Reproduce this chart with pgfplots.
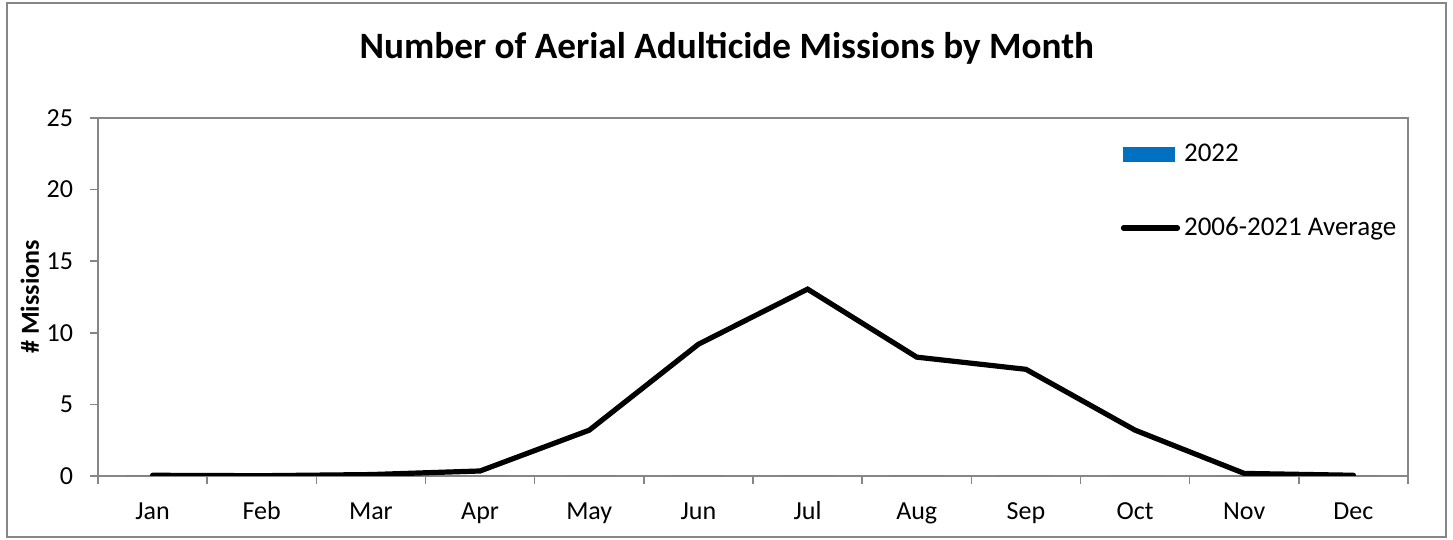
\documentclass[border=0pt]{standalone}
\usepackage{pgfplots}
\pgfplotsset{compat=1.18}
\usepackage{fontspec}
\setmainfont{Carlito}
\definecolor{axgray}{RGB}{134,134,134}
\definecolor{xlblue}{RGB}{0,112,192}

\pgfplotstableread{
m  avg   y2022
0  0.05  0
1  0.02  0
2  0.10  0
3  0.35  0
4  3.20  0
5  9.20  0
6  13.05 0
7  8.30  0
8  7.45  0
9  3.20  0
10 0.18  0
11 0.05  0
}\missions

\begin{document}
\begin{tikzpicture}
\begin{axis}[
  name=ax,
  scale only axis,
  width=655pt, height=179pt,
  xmin=-0.5, xmax=11.5,
  ymin=0, ymax=25,
  xtick={0,...,11},
  xticklabels={Jan,Feb,Mar,Apr,May,Jun,Jul,Aug,Sep,Oct,Nov,Dec},
  minor xtick={-0.5,0.5,...,11.5},
  ytick={0,5,10,15,20,25},
  major x tick style={draw=none},
  tick align=outside,
  major tick length=4pt,
  minor tick length=4pt,
  xtick pos=bottom, ytick pos=left,
  axis line style={axgray, line width=0.8pt},
  every tick/.style={axgray, line width=0.8pt},
  minor tick style={axgray, line width=0.8pt},
  tick label style={font=\fontsize{13}{15}\selectfont},
  /pgf/number format/assume math mode=true,
  xticklabel style={yshift=-5pt, text height=9pt, text depth=3pt},
  yticklabel style={xshift=-5pt},
  title={Number of Aerial Adulticide Missions by Month},
  title style={font=\fontsize{18.6}{22}\selectfont\bfseries, at={(axis description cs:0.48,1.16)}, anchor=center},
  ylabel={\# Missions},
  ylabel style={font=\fontsize{13}{15}\selectfont\bfseries, at={(axis description cs:-0.052,0.5)}, anchor=center},
  legend style={draw=none, fill=none, at={(axis description cs:0.7805,0.94)}, anchor=north west,
    font=\fontsize{13.5}{16}\selectfont, row sep=22.5pt, inner sep=0pt,
    legend cell align=left},
]
\addplot[draw=none, fill=xlblue, ybar, bar width=0.5,
  legend image code/.code={\fill[xlblue] (0pt,-3.75pt) rectangle (26pt,3.75pt);}]
  table[x=m, y=y2022] {\missions};
\addlegendentry{2022}
\addplot[black, line width=2.6pt, line cap=round, line join=miter, mark=none,
  legend image code/.code={\draw[black, line width=2.6pt, line cap=round] (0pt,0pt) -- (27pt,0pt);}]
  table[x=m, y=avg] {\missions};
\addlegendentry{2006-2021 Average}
\end{axis}
\draw[axgray, line width=0.8pt] (ax.south east) -- (ax.north east) -- (ax.north west);
\draw[axgray, line width=1pt] ([shift={(-45.5pt,-30.5pt)}]ax.south west) rectangle ([shift={(19pt,57.5pt)}]ax.north east);
\path[use as bounding box] ([shift={(-49pt,-32pt)}]ax.south west) rectangle ([shift={(22.5pt,59pt)}]ax.north east);
\end{tikzpicture}
\end{document}
